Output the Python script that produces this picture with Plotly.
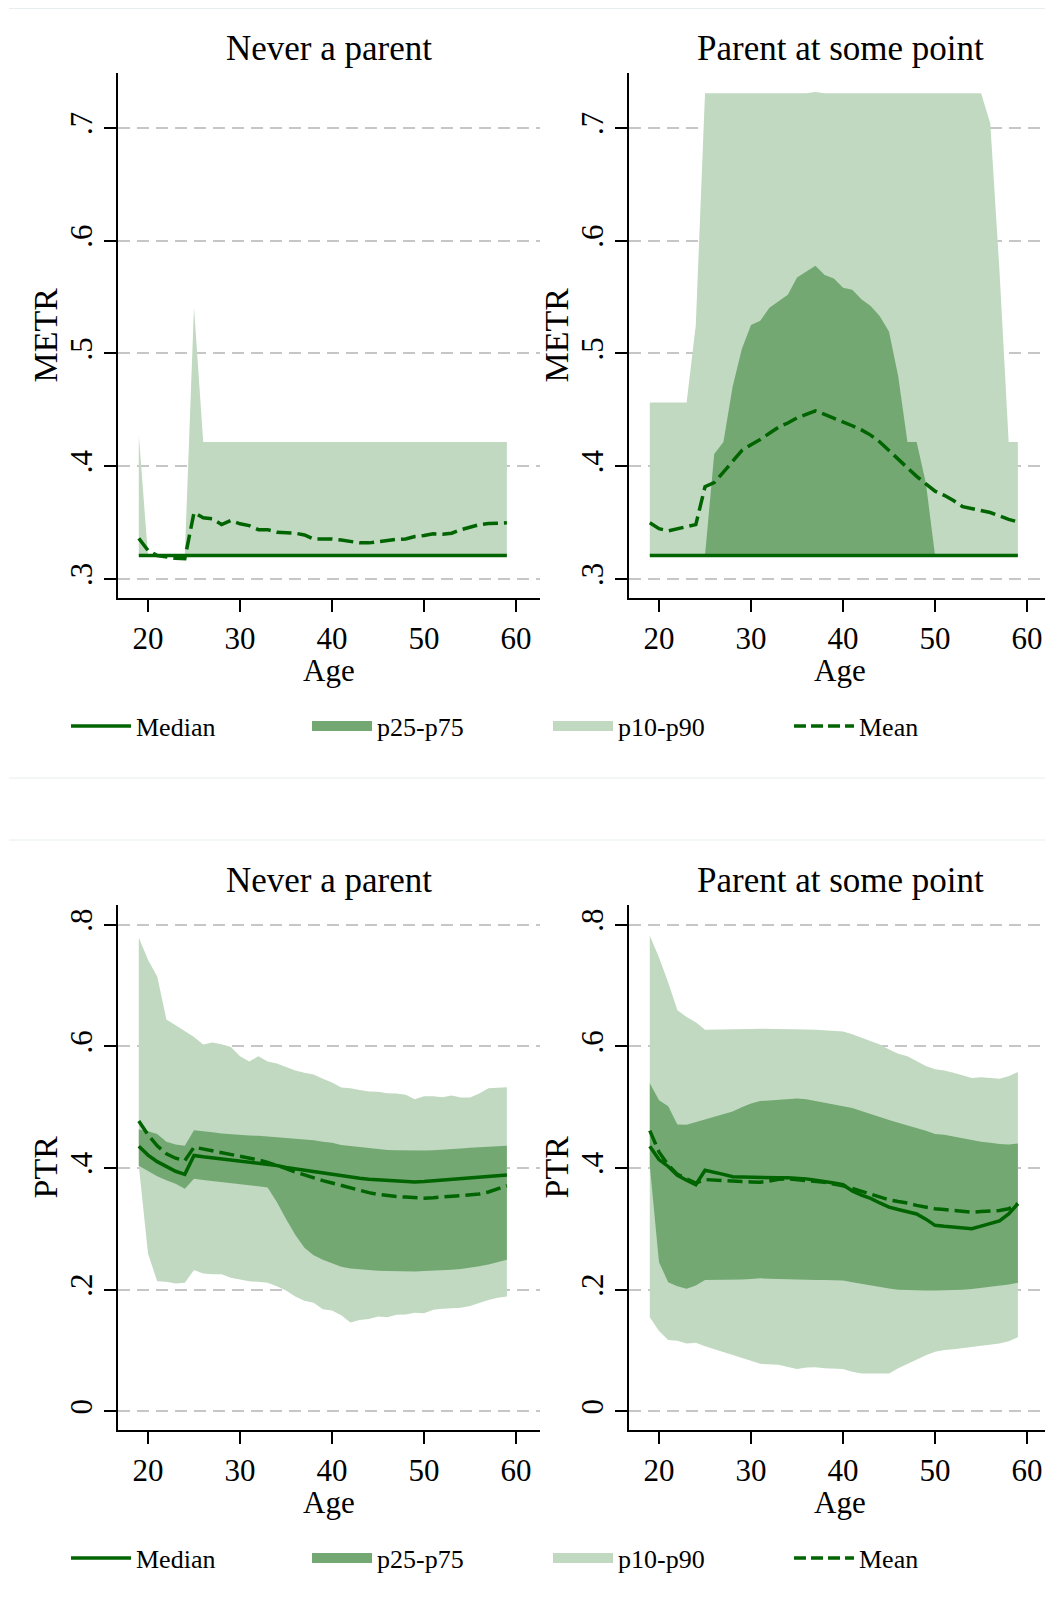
import plotly.graph_objects as go

# ages on the x axis
ages = list(range(19, 60))

# ---- METR, never a parent ----
metr_np_p10 = [0.3208] * 41
metr_np_p25 = [0.3208] * 41
metr_np_p50 = [0.3208] * 41
metr_np_p75 = [0.3208] * 41
metr_np_p90 = [0.4276, 0.3208, 0.3208, 0.3208, 0.3208, 0.3208, 0.541] + [0.4215] * 34
metr_np_mean = [0.336, 0.3253, 0.3208, 0.3192, 0.3183, 0.318, 0.3589, 0.3543, 0.3534, 0.3482,
                0.3519, 0.3489, 0.3473, 0.3437, 0.3437, 0.3415, 0.3412, 0.3406, 0.339, 0.3354,
                0.3354, 0.3354, 0.3345, 0.333, 0.332, 0.332, 0.333, 0.3345, 0.3351, 0.3354,
                0.3376, 0.3385, 0.34, 0.3397, 0.3406, 0.3437, 0.3458, 0.3482, 0.3492, 0.3498, 0.3498]

# ---- METR, parent at some point ----
metr_p_p10 = [0.3208] * 41
metr_p_p25 = [0.3208] * 41
metr_p_p50 = [0.3208] * 41
metr_p_p75 = [0.3208, 0.3208, 0.3208, 0.3208, 0.3208, 0.3208, 0.3208, 0.4108, 0.4215, 0.4704,
              0.504, 0.5253, 0.529, 0.5406, 0.5467, 0.5522, 0.5675, 0.5727, 0.5779, 0.5696,
              0.5665, 0.5583, 0.5565, 0.5482, 0.5421, 0.533, 0.5192, 0.4795, 0.4215, 0.4215,
              0.385, 0.3208, 0.3208, 0.3208, 0.3208, 0.3208, 0.3208, 0.3208, 0.3208, 0.3208, 0.3208]
metr_p_p90 = [0.4566, 0.4566, 0.4566, 0.4566, 0.4566, 0.5253] + [0.7308] * 12 + [0.732] + [0.7308] * 18 \
             + [0.704, 0.5736, 0.4215, 0.4215]
metr_p_mean = [0.3498, 0.3446, 0.3427, 0.3446, 0.3461, 0.3482, 0.3818, 0.3855, 0.3947, 0.4038,
               0.4139, 0.4191, 0.4237, 0.4292, 0.4347, 0.4383, 0.4429, 0.446, 0.449, 0.446,
               0.4429, 0.4392, 0.4359, 0.4322, 0.4276, 0.4215, 0.4139, 0.4053, 0.3977, 0.391,
               0.3843, 0.3779, 0.3742, 0.3696, 0.3641, 0.3626, 0.3611, 0.3589, 0.3559, 0.3528, 0.3507]

# ---- PTR, never a parent ----
ptr_np_p10 = [0.4037, 0.2593, 0.214, 0.2129, 0.2101, 0.2112, 0.2322, 0.2265, 0.2254, 0.2254,
              0.2197, 0.2163, 0.214, 0.2129, 0.2112, 0.2055, 0.1988, 0.1886, 0.1818, 0.1784,
              0.1676, 0.1659, 0.158, 0.1461, 0.1501, 0.1518, 0.1557, 0.1546, 0.1586, 0.1591,
              0.162, 0.1614, 0.167, 0.1687, 0.1699, 0.1704, 0.1733, 0.1784, 0.1829, 0.1869, 0.1886]
ptr_np_p25 = [0.4037, 0.3952, 0.3867, 0.38, 0.3743, 0.3658, 0.3822, 0.3805, 0.3788, 0.3771,
              0.3754, 0.3732, 0.3715, 0.3698, 0.3681, 0.3443, 0.316, 0.2905, 0.269, 0.2565,
              0.2492, 0.2435, 0.2378, 0.235, 0.2333, 0.2322, 0.231, 0.2305, 0.2299, 0.2299,
              0.2299, 0.2305, 0.231, 0.2322, 0.2327, 0.2339, 0.2356, 0.2384, 0.2412, 0.2452, 0.2492]
ptr_np_p50 = [0.436, 0.4213, 0.4105, 0.402, 0.3947, 0.3896, 0.4207, 0.4185, 0.4168, 0.4145,
              0.4128, 0.4111, 0.4094, 0.4077, 0.406, 0.4043, 0.4009, 0.3986, 0.3964, 0.3941,
              0.3918, 0.3901, 0.3873, 0.3851, 0.3834, 0.3817, 0.3805, 0.3799, 0.3788, 0.3777,
              0.3771, 0.3777, 0.3788, 0.3799, 0.3811, 0.3822, 0.3834, 0.3845, 0.3856, 0.3868, 0.3885]
ptr_np_p75 = [0.4632, 0.4604, 0.4558, 0.4434, 0.4388, 0.4366, 0.4621, 0.4598, 0.4587, 0.457,
              0.4558, 0.4541, 0.4536, 0.453, 0.4519, 0.4513, 0.4502, 0.4491, 0.4474, 0.4457,
              0.4434, 0.4417, 0.4377, 0.436, 0.4338, 0.4321, 0.4309, 0.4298, 0.4292, 0.4287,
              0.4287, 0.4287, 0.4292, 0.4298, 0.4309, 0.4321, 0.4332, 0.4343, 0.4349, 0.436, 0.4366]
ptr_np_p90 = [0.7786, 0.7424, 0.715, 0.6444, 0.6348, 0.6246, 0.6155, 0.603, 0.6065, 0.6036,
              0.5991, 0.5838, 0.5753, 0.5838, 0.5753, 0.5719, 0.5663, 0.5606, 0.5566, 0.5538,
              0.547, 0.5408, 0.5323, 0.5311, 0.5283, 0.526, 0.5255, 0.5232, 0.5226, 0.5204,
              0.513, 0.5181, 0.5181, 0.5164, 0.5192, 0.5159, 0.5159, 0.5226, 0.5311, 0.5323, 0.5328]
ptr_np_mean = [0.4774, 0.4547, 0.4366, 0.4236, 0.4162, 0.4122, 0.4343, 0.4315, 0.4287, 0.4258,
               0.4224, 0.419, 0.4162, 0.4134, 0.4094, 0.4049, 0.3992, 0.3935, 0.3885, 0.3839,
               0.3794, 0.3754, 0.3715, 0.3669, 0.363, 0.3596, 0.3567, 0.3545, 0.3533, 0.3522,
               0.3511, 0.3505, 0.3511, 0.3522, 0.3539, 0.355, 0.3556, 0.3573, 0.3607, 0.3652, 0.3709]

# ---- PTR, parent at some point ----
ptr_p_p10 = [0.1546, 0.1319, 0.1172, 0.1161, 0.1116, 0.1127, 0.107, 0.1025, 0.098, 0.0934,
             0.0883, 0.0832, 0.0781, 0.0776, 0.0764, 0.073, 0.0697, 0.0719, 0.0725, 0.0708,
             0.0697, 0.0697, 0.0651, 0.0623, 0.0623, 0.0623, 0.0623, 0.0708, 0.0781, 0.0849,
             0.0923, 0.098, 0.1008, 0.1019, 0.1036, 0.1059, 0.1082, 0.1093, 0.1116, 0.115, 0.1217]
ptr_p_p25 = [0.4037, 0.2452, 0.2123, 0.2056, 0.2016, 0.2067, 0.2157, 0.2163, 0.2169, 0.2169,
             0.2169, 0.2174, 0.2186, 0.218, 0.2174, 0.2169, 0.2169, 0.2163, 0.2157, 0.2157,
             0.2152, 0.2152, 0.2123, 0.2095, 0.2067, 0.2044, 0.2021, 0.1999, 0.1993, 0.1988,
             0.1988, 0.1988, 0.1988, 0.1988, 0.1999, 0.201, 0.2027, 0.2044, 0.2067, 0.2084, 0.2112]
ptr_p_p50 = [0.436, 0.4139, 0.4026, 0.3879, 0.38, 0.3726, 0.3964, 0.3935, 0.3896, 0.3856,
             0.385, 0.3845, 0.3839, 0.3839, 0.3839, 0.3839, 0.3834, 0.3822, 0.38, 0.3783,
             0.3754, 0.3726, 0.3624, 0.3556, 0.35, 0.3426, 0.3358, 0.3318, 0.3284, 0.3245,
             0.316, 0.3058, 0.3041, 0.3029, 0.3007, 0.3001, 0.3046, 0.3086, 0.3131, 0.3245, 0.3414]
ptr_p_p75 = [0.5396, 0.5113, 0.5017, 0.4717, 0.4711, 0.4757, 0.4796, 0.4841, 0.4887, 0.4932,
             0.5, 0.5062, 0.5102, 0.5113, 0.5119, 0.513, 0.5142, 0.513, 0.5102, 0.5085,
             0.5057, 0.5028, 0.4989, 0.4938, 0.4887, 0.483, 0.479, 0.4745, 0.4705, 0.466,
             0.4615, 0.4558, 0.4547, 0.4519, 0.449, 0.4457, 0.4434, 0.4417, 0.4394, 0.4388, 0.4405]
ptr_p_p90 = [0.782, 0.7463, 0.705, 0.6597, 0.6484, 0.6399, 0.6274, 0.6274, 0.6274, 0.628,
             0.6285, 0.6285, 0.6291, 0.6291, 0.6285, 0.6291, 0.6291, 0.628, 0.6274, 0.6268,
             0.6257, 0.6246, 0.62, 0.6144, 0.6087, 0.6031, 0.5951, 0.5878, 0.5838, 0.5759,
             0.5679, 0.5623, 0.5606, 0.5566, 0.5521, 0.5481, 0.5493, 0.5481, 0.547, 0.5509, 0.5578]
ptr_p_mean = [0.4615, 0.4264, 0.4049, 0.3896, 0.3822, 0.3754, 0.3811, 0.38, 0.3794, 0.3783,
              0.3777, 0.3771, 0.3766, 0.3788, 0.3817, 0.3822, 0.3811, 0.38, 0.3783, 0.3766,
              0.3737, 0.3709, 0.3664, 0.3618, 0.3573, 0.3528, 0.3477, 0.3449, 0.3426, 0.3386,
              0.3358, 0.333, 0.3318, 0.3301, 0.329, 0.3273, 0.3284, 0.3296, 0.3301, 0.333, 0.3414]

panel_titles = ["Never a parent", "Parent at some point"]
y_titles = ["METR", "PTR"]
x_title = "Age"
metr_ticks = [0.3, 0.4, 0.5, 0.6, 0.7]
metr_ticktext = [".3", ".4", ".5", ".6", ".7"]
ptr_ticks = [0, 0.2, 0.4, 0.6, 0.8]
ptr_ticktext = ["0", ".2", ".4", ".6", ".8"]
age_ticks = [20, 30, 40, 50, 60]

LINE = "#006400"
DARK = "#73a873"
LIGHT = "#c0d9c0"
FONT = "Liberation Serif"
# the page body adds 8px around the figure, so the figure is a bit smaller than the window
W, H = 1045, 1593

panels = [
    (metr_np_p10, metr_np_p25, metr_np_p50, metr_np_p75, metr_np_p90, metr_np_mean),
    (metr_p_p10, metr_p_p25, metr_p_p50, metr_p_p75, metr_p_p90, metr_p_mean),
    (ptr_np_p10, ptr_np_p25, ptr_np_p50, ptr_np_p75, ptr_np_p90, ptr_np_mean),
    (ptr_p_p10, ptr_p_p25, ptr_p_p50, ptr_p_p75, ptr_p_p90, ptr_p_mean),
]

fig = go.Figure()

for i, (p10, p25, p50, p75, p90, mean) in enumerate(panels):
    xa = "x" if i == 0 else "x%d" % (i + 1)
    ya = "y" if i == 0 else "y%d" % (i + 1)
    fig.add_trace(go.Scatter(x=ages, y=p10, xaxis=xa, yaxis=ya, mode="lines",
                             line=dict(width=0, color=LIGHT), showlegend=False, hoverinfo="skip"))
    fig.add_trace(go.Scatter(x=ages, y=p90, xaxis=xa, yaxis=ya, mode="lines", fill="tonexty",
                             fillcolor=LIGHT, line=dict(width=0, color=LIGHT), showlegend=False))
    fig.add_trace(go.Scatter(x=ages, y=p25, xaxis=xa, yaxis=ya, mode="lines",
                             line=dict(width=0, color=DARK), showlegend=False, hoverinfo="skip"))
    fig.add_trace(go.Scatter(x=ages, y=p75, xaxis=xa, yaxis=ya, mode="lines", fill="tonexty",
                             fillcolor=DARK, line=dict(width=0, color=DARK), showlegend=False))
    fig.add_trace(go.Scatter(x=ages, y=p50, xaxis=xa, yaxis=ya, mode="lines",
                             line=dict(width=3.5, color=LINE), showlegend=False))
    fig.add_trace(go.Scatter(x=ages, y=mean, xaxis=xa, yaxis=ya, mode="lines",
                             line=dict(width=3.5, color=LINE, dash="15px,6px"), showlegend=False))

# legend entries (one legend under each pair of panels)
legend_items = [("Median", LINE, 3.5, "solid"), ("p25-p75", DARK, 28, "solid"),
                ("p10-p90", LIGHT, 28, "solid"), ("Mean", LINE, 3.5, "12px,5px")]
for leg, xa, ya in (("legend", "x", "y"), ("legend2", "x3", "y3")):
    for rank, (name, color, lw, dash) in enumerate(legend_items):
        fig.add_trace(go.Scatter(x=[None], y=[None], xaxis=xa, yaxis=ya, mode="lines",
                                 line=dict(width=lw, color=color, dash=dash), name=name,
                                 legend=leg, legendrank=rank + 1, showlegend=True))

xdom = [[110 / W, 532 / W], [621 / W, 1043 / W]]
ydom = [[1 - 590 / H, 1 - 65 / H], [1 - 1422 / H, 1 - 897 / H]]

axis_common = dict(showline=True, linecolor="black", linewidth=2, ticks="outside",
                   ticklen=12, tickwidth=2, tickcolor="black", zeroline=False,
                   tickfont=dict(family=FONT, size=31, color="black"))

layout = dict(width=W, height=H, margin=dict(l=0, r=0, t=0, b=0),
              paper_bgcolor="white", plot_bgcolor="white",
              font=dict(family=FONT, color="black"))

annotations = []
for i in range(4):
    row, col = i // 2, i % 2
    xkey = "xaxis" if i == 0 else "xaxis%d" % (i + 1)
    ykey = "yaxis" if i == 0 else "yaxis%d" % (i + 1)
    ya = "y" if i == 0 else "y%d" % (i + 1)
    xa = "x" if i == 0 else "x%d" % (i + 1)
    layout[xkey] = dict(axis_common, domain=xdom[col], anchor=ya, range=[16.74, 62.6],
                        tickvals=age_ticks, showgrid=False, ticklabelstandoff=0)
    if row == 0:
        rng, tv, tt = [0.2831, 0.7488], metr_ticks, metr_ticktext
    else:
        rng, tv, tt = [-0.0308, 0.8326], ptr_ticks, ptr_ticktext
    layout[ykey] = dict(axis_common, domain=ydom[row], anchor=xa, range=rng,
                        tickvals=tv, ticktext=tt, tickangle=-90, showgrid=True,
                        gridcolor="#c6c6c6", gridwidth=2, griddash="12px,7px")
    # y axis title, x axis title and panel title
    annotations.append(dict(text=y_titles[row], xref="paper", yref="paper", textangle=-90,
                            x=(37 + 511 * col) / W, y=sum(ydom[row]) / 2,
                            xanchor="center", yanchor="middle", showarrow=False,
                            font=dict(family=FONT, size=34, color="black")))
    annotations.append(dict(text=x_title, xref="paper", yref="paper",
                            x=sum(xdom[col]) / 2, y=1 - (662 + 832 * row) / H,
                            xanchor="center", yanchor="middle", showarrow=False,
                            font=dict(family=FONT, size=31, color="black")))
    annotations.append(dict(text=panel_titles[col], xref="paper", yref="paper",
                            x=sum(xdom[col]) / 2, y=1 - (40 + 832 * row) / H,
                            xanchor="center", yanchor="middle", showarrow=False,
                            font=dict(family=FONT, size=35, color="black")))
layout["annotations"] = annotations

legend_common = dict(orientation="h", xanchor="left", yanchor="middle", x=58 / W,
                     font=dict(family=FONT, size=26, color="black"), itemwidth=60,
                     entrywidth=166, bgcolor="rgba(0,0,0,0)", traceorder="normal")
layout["legend"] = dict(legend_common, y=1 - 718 / H)
layout["legend2"] = dict(legend_common, y=1 - 1550 / H)

layout["shapes"] = [dict(type="line", xref="paper", yref="paper", x0=1 / W, x1=1,
                         y0=1 - yy / H, y1=1 - yy / H, line=dict(color="#e6eef0", width=1))
                    for yy in (0.5, 770, 832)]

fig.update_layout(**layout)
fig.write_html("out.html")
